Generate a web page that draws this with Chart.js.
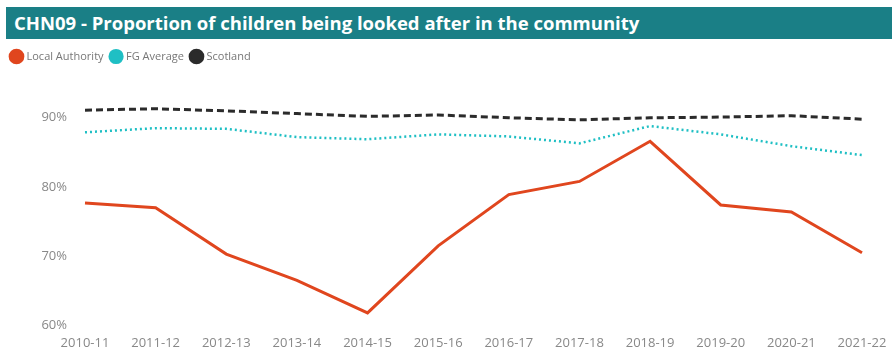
<!DOCTYPE html>
<html><head><meta charset="utf-8">
<script src="https://cdn.jsdelivr.net/npm/chart.js@4"></script>
<style>
html,body{margin:0;padding:0;background:#fff;width:892px;height:362px;overflow:hidden;font-family:"Open Sans",sans-serif;}
#bar{position:absolute;left:6px;top:7px;width:886px;height:32px;background:#1a7f86;color:#fff;font-weight:bold;font-size:18.5px;line-height:32px;padding-left:8px;box-sizing:border-box;white-space:nowrap;}
#wrap{position:absolute;left:0;top:42px;width:892px;height:320px;}
</style></head><body>
<div id="bar">CHN09 - Proportion of children being looked after in the community</div>
<div id="wrap"><canvas id="c"></canvas></div>
<script>
const categories = ["2010-11","2011-12","2012-13","2013-14","2014-15","2015-16","2016-17","2017-18","2018-19","2019-20","2020-21","2021-22"];
const localAuthority = [77.7,77.0,70.3,66.5,61.8,71.5,78.9,80.8,86.6,77.4,76.4,70.5];
const fgAverage = [87.9,88.5,88.4,87.2,86.9,87.6,87.3,86.3,88.8,87.6,85.9,84.6];
const scotland = [91.1,91.3,91.0,90.6,90.2,90.4,90.0,89.7,90.0,90.1,90.3,89.8];
const yTicks = [60,70,80,90];

const legendSpace = {id:'legendSpace', beforeInit(chart){
  const orig = chart.legend.fit;
  chart.legend.fit = function(){ orig.bind(chart.legend)(); this.height += 25; };
}};

new Chart(document.getElementById('c'), {
  type:'line',
  data:{labels:categories, datasets:[
    {label:'Local Authority', data:localAuthority, borderColor:'#e0461e', backgroundColor:'#e0461e', borderWidth:3, pointRadius:0, tension:0},
    {label:'FG Average', data:fgAverage, borderColor:'#1fbfc4', backgroundColor:'#1fbfc4', borderWidth:2.5, borderDash:[2,3], pointRadius:0, tension:0},
    {label:'Scotland', data:scotland, borderColor:'#2b2b2b', backgroundColor:'#2b2b2b', borderWidth:3, borderDash:[7,4], pointRadius:0, tension:0}
  ]},
  options:{
    responsive:true, maintainAspectRatio:false, animation:false,
    layout:{padding:{top:1,left:4,right:30,bottom:9}},
    plugins:{
      legend:{position:'top', align:'start', labels:{usePointStyle:true, pointStyle:'circle', boxWidth:9, boxHeight:9, padding:8, color:'#777', font:{family:'"Open Sans"', size:11}}},
      tooltip:{enabled:false}
    },
    scales:{
      x:{offset:false, grid:{display:false}, border:{display:false}, ticks:{color:'#888', font:{family:'"Open Sans"', size:13}, maxRotation:0, autoSkip:false, padding:2}},
      y:{min:60, max:93, grid:{display:false}, border:{display:false},
        afterFit(s){ s.width = 81; },
        afterBuildTicks(s){ s.ticks = yTicks.map(v=>({value:v})); },
        ticks:{color:'#888', font:{family:'"Open Sans"', size:13}, padding:10, callback:v=>v+'%'}}
    }
  },
  plugins:[legendSpace]
});
</script></body></html>
